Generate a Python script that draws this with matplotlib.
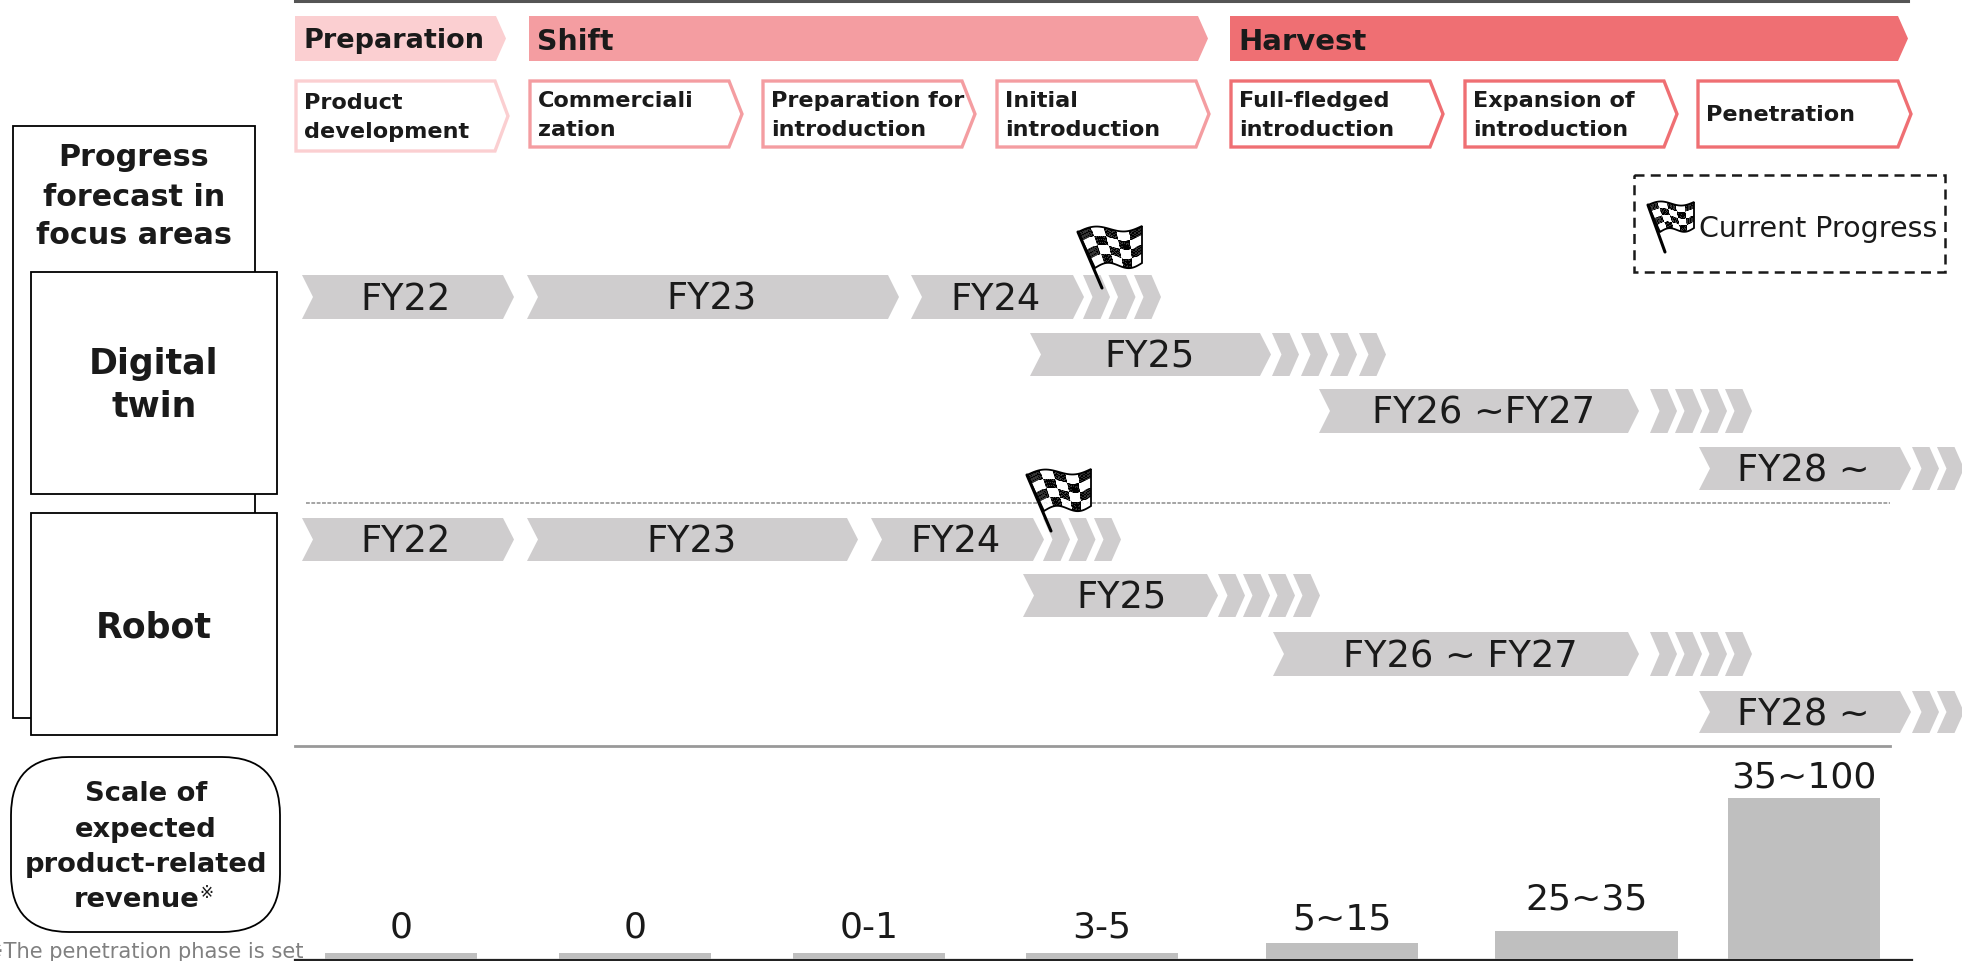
"""
Roadmap chart: development phases, progress forecast by area, expected revenue.
All layout is done in reference pixels on one full-figure axes.
"""

import numpy as np
import matplotlib
matplotlib.use("Agg")
import matplotlib.pyplot as plt
from matplotlib.patches import Polygon, Rectangle, FancyBboxPatch

W, H = 1962, 961

# === Data ===
phases = ["Preparation", "Shift", "Harvest"]
steps = ["Product\ndevelopment", "Commerciali\nzation", "Preparation for\nintroduction",
         "Initial\nintroduction", "Full-fledged\nintroduction", "Expansion of\nintroduction",
         "Penetration"]
twin_years = ["FY22", "FY23", "FY24", "FY25", "FY26 ~FY27", "FY28 ~"]
robot_years = ["FY22", "FY23", "FY24", "FY25", "FY26 ~ FY27", "FY28 ~"]
revenue_labels = ["0", "0", "0-1", "3-5", "5~15", "25~35", "35~100"]
# bar heights as drawn in the source (not proportional to the ranges)
revenue_bars = [6, 6, 6, 6, 16, 28, 161]

# === Layout ===
PINK = ["#FBCFD1", "#F49DA1", "#EF6F73"]
GREY = "#CFCDCE"
phase_x = [(295, 506), (529, 1208), (1230, 1908)]
phase_size = [19.5, 20.5, 21]
step_x = [(295, 508), (529, 742), (762, 975), (996, 1209), (1230, 1443), (1464, 1677), (1697, 1911)]
step_col = [0, 1, 1, 1, 2, 2, 2]

# x0, x1, label centre, y0, y1, chevron start, chevron count, chevron step
twin_rows = [
    (302, 514, 405, 275, 319, 0, 0, 0),
    (527, 899, 711, 275, 319, 0, 0, 0),
    (911, 1084, 996, 275, 319, 1083, 3, 25.5),
    (1030, 1271, 1150, 333, 376, 1272, 4, 29),
    (1319, 1639, 1483, 389, 433, 1650, 4, 25),
    (1699, 1911, 1803, 447, 490, 1912, 2, 25),
]
robot_rows = [
    (302, 514, 405, 518, 561, 0, 0, 0),
    (527, 858, 691, 518, 561, 0, 0, 0),
    (871, 1044, 956, 518, 561, 1043, 3, 25.5),
    (1023, 1218, 1122, 574, 617, 1218, 4, 25),
    (1273, 1639, 1460, 632, 676, 1650, 4, 25),
    (1699, 1911, 1803, 691, 733, 1912, 2, 25),
]

bar_x = [325, 559, 793, 1026, 1266, 1495, 1728]
bar_w = [152, 152, 152, 152, 152, 183, 152]
bar_label_y = [927, 927, 927, 927, 919, 899, 778]


def pentagon(ax, x0, x1, y0, y1, tip, **kw):
    pts = [(x0, y0), (x1 - tip, y0), (x1, (y0 + y1) / 2), (x1 - tip, y1), (x0, y1)]
    ax.add_patch(Polygon(pts, closed=True, **kw))


def chevron(ax, x0, x1, y0, y1, tip, **kw):
    mid = (y0 + y1) / 2
    pts = [(x0, y0), (x1 - tip, y0), (x1, mid), (x1 - tip, y1), (x0, y1), (x0 + tip, mid)]
    ax.add_patch(Polygon(pts, closed=True, **kw))


def flag(ax, tl, tr, br, bl, pole_end):
    # checkered flag icon, warped a little with a sine wave
    tl, tr, br, bl = [np.array(p, float) for p in (tl, tr, br, bl)]
    u, v = np.meshgrid(np.linspace(0, 1, 31), np.linspace(0, 1, 25))
    size = np.linalg.norm(tr - tl)
    wave = np.sin(u * 2 * np.pi) * size * 0.06
    top_x = tl[0] + u * (tr[0] - tl[0])
    top_y = tl[1] + u * (tr[1] - tl[1])
    bot_x = bl[0] + u * (br[0] - bl[0])
    bot_y = bl[1] + u * (br[1] - bl[1])
    x = top_x + v * (bot_x - top_x)
    y = top_y + v * (bot_y - top_y) - wave
    cu = np.floor(u[:-1, :-1] * 4.999 + 0.02).astype(int)
    cv = np.floor(v[:-1, :-1] * 3.999 + 0.02).astype(int)
    ax.pcolormesh(x, y, (cu + cv) % 2, cmap="gray", vmin=0, vmax=1, shading="flat",
                  antialiased=True, zorder=6)
    edge = np.vstack([np.c_[x[0], y[0]], np.c_[x[:, -1], y[:, -1]],
                      np.c_[x[-1][::-1], y[-1][::-1]], np.c_[x[:, 0][::-1], y[:, 0][::-1]]])
    ax.add_patch(Polygon(edge, closed=True, fill=False, edgecolor="black", linewidth=1.3, zorder=7))
    ax.plot([tl[0], pole_end[0]], [tl[1], pole_end[1]], color="black", lw=2.2,
            solid_capstyle="round", zorder=7)


def draw_years(ax, labels, rows):
    for label, row in zip(labels, rows):
        x0, x1, cx, y0, y1, cs, cn, cstep = row
        chevron(ax, x0, x1, y0, y1, 11, facecolor=GREY, edgecolor="none")
        ax.text(cx, (y0 + y1) / 2 + 2.5, label, fontsize=26.5, color="#1a1a1a", ha="center", va="center")
        for i in range(cn):
            sx = cs + i * cstep
            chevron(ax, sx, sx + 27, y0, y1, 9.5, facecolor=GREY, edgecolor="none")


fig = plt.figure(figsize=(W / 100, H / 100), dpi=100)
ax = fig.add_axes([0, 0, 1, 1])
ax.set_xlim(0, W)
ax.set_ylim(H, 0)
ax.axis("off")
TXT = "#1a1a1a"

# === Top rule and phase banners ===
ax.plot([295, 1908], [1, 1], color="#555555", lw=2.2)
for name, (x0, x1), col, fs in zip(phases, phase_x, PINK, phase_size):
    pentagon(ax, x0, x1, 16, 61, 10, facecolor=col, edgecolor="none")
    ax.text(x0 + 8, 41.5, name, fontsize=fs, fontweight="bold", color=TXT, ha="left", va="center")

# === Step boxes ===
for i, (name, (x0, x1)) in enumerate(zip(steps, step_x)):
    y1 = 151 if i == 0 else 147
    pentagon(ax, x0 + 1, x1, 81, y1, 13, facecolor="white", edgecolor=PINK[step_col[i]],
             linewidth=2.4, joinstyle="miter")
    lines = name.split("\n")
    if i == 0:
        ys = [103, 132]
    elif len(lines) == 2:
        ys = [101, 130]
    else:
        ys = [115]
    for line, y in zip(lines, ys):
        ax.text(x0 + 9, y, line, fontsize=16.1, fontweight="bold", color=TXT, ha="left", va="center")

# === Left-hand boxes ===
ax.add_patch(Rectangle((13, 126), 242, 592, facecolor="white", edgecolor="black", linewidth=1.3))
for line, y in zip(["Progress", "forecast in", "focus areas"], [158, 197, 236]):
    ax.text(134, y, line, fontsize=21.8, fontweight="bold", color=TXT, ha="center", va="center")
ax.add_patch(Rectangle((31, 272), 246, 222, facecolor="white", edgecolor="black", linewidth=1.3, zorder=3))
ax.add_patch(Rectangle((31, 513), 246, 222, facecolor="white", edgecolor="black", linewidth=1.3, zorder=3))
for line, y in zip(["Digital", "twin"], [364, 407]):
    ax.text(154, y, line, fontsize=25, fontweight="bold", color=TXT, ha="center", va="center", zorder=4)
ax.text(154, 628, "Robot", fontsize=25, fontweight="bold", color=TXT, ha="center", va="center", zorder=4)

ax.add_patch(FancyBboxPatch((11, 757), 269, 175, boxstyle="round,pad=0,rounding_size=58",
                            facecolor="white", edgecolor="black", linewidth=1.3))
for line, y in zip(["Scale of", "expected", "product-related"], [794, 830, 865]):
    ax.text(146, y, line, fontsize=19.7, fontweight="bold", color=TXT, ha="center", va="center")
ax.text(74, 900, "revenue", fontsize=19.7, fontweight="bold", color=TXT, ha="left", va="center")
ax.text(199, 893, "\u203b", fontsize=12, color=TXT, ha="left", va="center")
ax.text(303, 952, "\u203bThe penetration phase is set", fontsize=15.1, color="#808080",
        ha="right", va="center")

# === Progress arrows ===
draw_years(ax, twin_years, twin_rows)
draw_years(ax, robot_years, robot_rows)
ax.plot([306, 1890], [503, 503], color="#8c8c8c", lw=1.1, ls=(0, (2.5, 1)), zorder=2)

flag(ax, (1078, 232), (1142, 226), (1142, 263), (1095, 268), (1102, 288))
flag(ax, (1027, 475), (1091, 469), (1091, 506), (1044, 511), (1051, 531))

# === Legend box ===
ax.add_patch(Rectangle((1634, 175), 311, 97, fill=False, edgecolor="#1a1a1a", linewidth=1.8,
                       linestyle=(0, (4, 2.5))))
flag(ax, (1648, 205), (1694, 202), (1694, 228), (1660, 232), (1665, 252))
ax.text(1699, 229, "Current Progress", fontsize=20.5, color=TXT, ha="left", va="center")

# === Revenue bars ===
ax.plot([295, 1890], [746, 746], color="#999999", lw=2)
bar_ax = fig.add_axes([0, 2 / H, 1, 200 / H])
bar_ax.set_xlim(0, W)
bar_ax.set_ylim(0, 200)
bar_ax.axis("off")
bar_ax.bar(bar_x, revenue_bars, width=bar_w, align="edge", color="#BFBFBF")
ax.plot([295, 1912], [959.5, 959.5], color="#222222", lw=1.6, zorder=5)
for label, x, w, y in zip(revenue_labels, bar_x, bar_w, bar_label_y):
    ax.text(x + w / 2, y, label, fontsize=26, color=TXT, ha="center", va="center")

plt.savefig("out.png", dpi=100)
plt.close()
